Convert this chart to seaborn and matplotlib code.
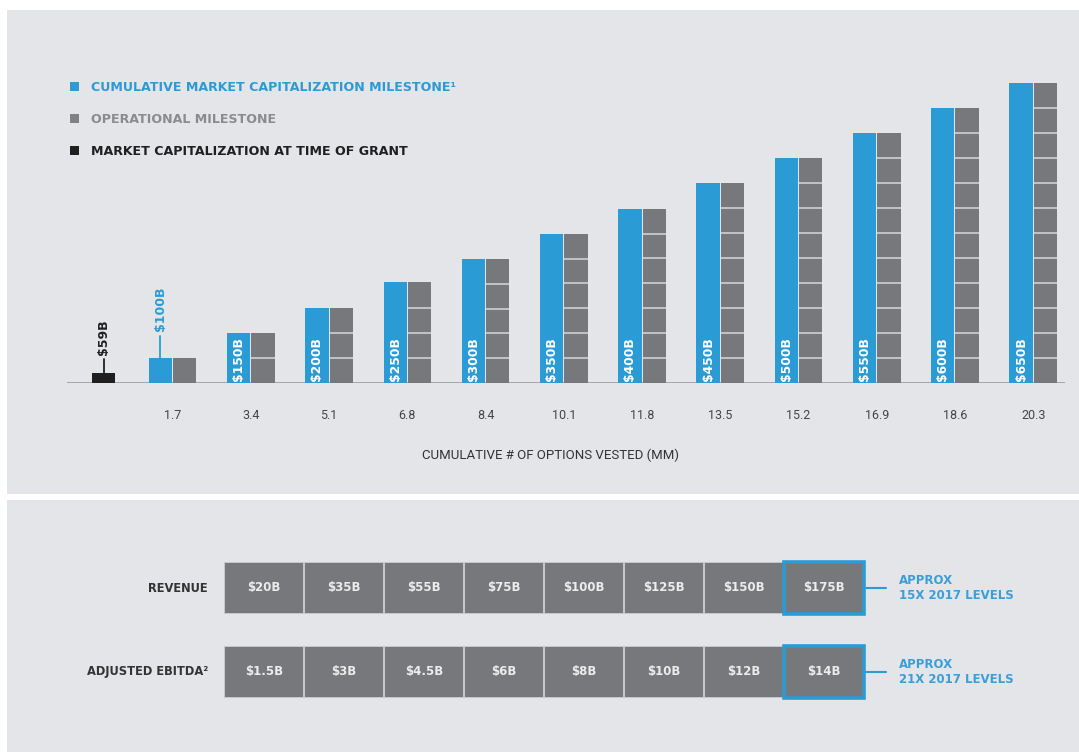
"""
Option tranches vs. market cap milestones, with operational milestone table below
"""
import matplotlib.pyplot as plt
from matplotlib.colors import ListedColormap
from matplotlib.patches import Patch, Rectangle
import numpy as np
import pandas as pd
import seaborn as sns

# top chart data
options_vested = [1.7, 3.4, 5.1, 6.8, 8.4, 10.1, 11.8, 13.5, 15.2, 16.9, 18.6, 20.3]
market_cap_milestones = [100, 150, 200, 250, 300, 350, 400, 450, 500, 550, 600, 650]
grant_market_cap = 59
grant_bar_height = 0.7

# bottom table data
revenue_milestones = [20, 35, 55, 75, 100, 125, 150, 175]
ebitda_milestones = [1.5, 3, 4.5, 6, 8, 10, 12, 14]
row_names = ["REVENUE", "ADJUSTED EBITDA\u00b2"]
row_notes = ["APPROX\n15X 2017 LEVELS", "APPROX\n21X 2017 LEVELS"]

legend_labels = ["CUMULATIVE MARKET CAPITALIZATION MILESTONE\u00b9",
                 "OPERATIONAL MILESTONE",
                 "MARKET CAPITALIZATION AT TIME OF GRANT"]

BLUE = "#2b9bd5"
GREY = "#77787b"
DARK = "#1f1f20"
PANEL = "#e4e5e9"
W, H = 1079, 752

sns.set_theme(style="white", rc={"axes.facecolor": "none"})
plt.rcParams['font.family'] = ['DejaVu Sans']

fig = plt.figure(figsize=(W / 100, H / 100), dpi=100, facecolor="white")

# grey background panels
fig.add_artist(Rectangle((7 / W, (H - 494) / H), 1 - 7 / W, 484 / H, transform=fig.transFigure,
                         facecolor=PANEL, edgecolor="none", zorder=-5))
fig.add_artist(Rectangle((7 / W, 0), 1 - 7 / W, (H - 500) / H, transform=fig.transFigure,
                         facecolor=PANEL, edgecolor="none", zorder=-5))

# ---- top bar chart ----
ax = fig.add_axes([67 / W, (H - 383) / H, (1064.5 - 67) / W, 313 / H])

tick_labels = [f"{v:g}" for v in options_vested]
df = pd.DataFrame({
	"options": tick_labels * 2,
	"height": options_vested * 2,
	"series": ["market"] * len(options_vested) + ["operational"] * len(options_vested),
})
sns.barplot(data=df, x="options", y="height", hue="series", order=tick_labels,
            hue_order=["market", "operational"], palette=[BLUE, GREY], width=0.62,
            gap=0.04, errorbar=None, legend=False, linewidth=0, saturation=1, ax=ax)

blue_bars = ax.containers[0]
grey_bars = ax.containers[1]

# segment lines on the operational bars, one per tranche
for k, bar in enumerate(grey_bars):
	n = k + 1
	h = bar.get_height()
	ys = [h * j / n for j in range(1, n)]
	if ys:
		ax.hlines(ys, bar.get_x(), bar.get_x() + bar.get_width(), color="#d7d8db", lw=1.1, zorder=3)

# market cap labels
for k, (bar, cap) in enumerate(zip(blue_bars, market_cap_milestones)):
	cx = bar.get_x() + bar.get_width() / 2
	h = bar.get_height()
	if k == 0:
		ax.plot([cx, cx], [h, h + 1.45], color=BLUE, lw=1.3)
		ax.text(cx, h + 1.85, f"${cap}B", rotation=90, ha="center", va="bottom",
		        color=BLUE, fontsize=9, fontweight="bold")
	else:
		ax.text(cx, 0.15, f"${cap}B", rotation=90, ha="center", va="bottom",
		        color="white", fontsize=8.8, fontweight="bold", zorder=4)

# market cap at time of grant
grant_x = -0.88
bw = blue_bars[0].get_width()
ax.bar(grant_x, grant_bar_height, width=bw, color=DARK, linewidth=0)
ax.plot([grant_x, grant_x], [grant_bar_height, 1.62], color=DARK, lw=1.3)
ax.text(grant_x, 1.9, f"${grant_market_cap}B", rotation=90, ha="center", va="bottom",
        color=DARK, fontsize=9, fontweight="bold")

ax.axhline(0, color="#9a9b9e", lw=1.2, zorder=0)
ax.set_xlim(-1.35, 11.4)
ax.set_ylim(0, 313 / 14.78)
ax.set_yticks([])
ax.set_xlabel("")
ax.set_ylabel("")
sns.despine(ax=ax, left=True, bottom=True)
ax.tick_params(axis="x", length=0, pad=19, labelsize=9, labelcolor="#444444")
for lbl in ax.get_xticklabels():
	lbl.set_fontfamily("Roboto")

fig.text(551 / W, 1 - 455 / H, "CUMULATIVE # OF OPTIONS VESTED (MM)", ha="center", va="center",
         fontsize=9.5, color="#333333", family="Roboto")

handles = [Patch(facecolor=c, edgecolor="none") for c in [BLUE, "#808184", DARK]]
leg = ax.legend(handles, legend_labels, loc="upper left", bbox_to_anchor=(70 / W, 1 - 81 / H),
                bbox_transform=fig.transFigure, frameon=False, handlelength=0.75, handleheight=0.75,
                handletextpad=0.9, labelspacing=1.5, borderpad=0, borderaxespad=0,
                prop=dict(weight="bold", size=9.1))
for txt, c in zip(leg.get_texts(), [BLUE, "#8a8b8e", DARK]):
	txt.set_color(c)

# ---- bottom milestone table ----
for vals, name, note, top_px in zip([revenue_milestones, ebitda_milestones], row_names, row_notes, [562, 646]):
	tax = fig.add_axes([224 / W, (H - top_px - 52) / H, 640 / W, 52 / H])
	labels = np.array([[f"${v:g}B" for v in vals]])
	sns.heatmap(np.array([vals]), ax=tax, cmap=ListedColormap([GREY]), cbar=False,
	            annot=labels, fmt="", annot_kws=dict(color="#ececec", fontweight="bold", fontsize=8.5),
	            linewidths=1.2, linecolor="#c5c6c9", xticklabels=False, yticklabels=False)
	n = len(vals)
	tax.add_patch(Rectangle((n - 1, 0), 1, 1, fill=False, edgecolor=BLUE, lw=2.6, clip_on=False, zorder=5))
	tax.plot([n + 0.02, n + 0.27], [0.5, 0.5], color=BLUE, lw=1.5, clip_on=False)
	tax.text(n + 0.44, 0.5, note, ha="left", va="center", color="#3a9fd8", fontsize=8.5,
	         fontweight="bold", linespacing=1.25)
	tax.text(-0.2, 0.5, name, ha="right", va="center", color="#333333", fontsize=8.3, fontweight="bold")

fig.savefig("out.png", dpi=100, facecolor="white")
